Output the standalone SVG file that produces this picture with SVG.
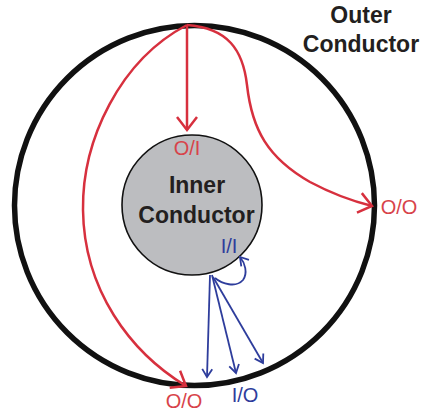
<svg xmlns="http://www.w3.org/2000/svg" width="424" height="415" viewBox="0 0 424 415">
<defs>
<style>
.lbl{font-family:"Liberation Sans",Arial,sans-serif;font-size:20px;text-anchor:middle}
.red{fill:#d8434a}
.blue{fill:#2e3d9c}
.title{font-family:"Liberation Sans",Arial,sans-serif;font-size:23px;font-weight:bold;fill:#231f20;text-anchor:middle}
.rline{fill:none;stroke:#d7303e;stroke-width:2.5;marker-end:url(#ra)}
.bline{fill:none;stroke:#2e3d9c;stroke-width:1.8;marker-end:url(#ba)}
</style>
<marker id="ra" markerUnits="userSpaceOnUse" viewBox="0 0 16 24" markerWidth="16" markerHeight="24" refX="14" refY="12" orient="auto" overflow="visible">
<path d="M1,2 L14,12 L1,22" fill="none" stroke="#d7303e" stroke-width="2.5"/>
</marker>
<marker id="ba" markerUnits="userSpaceOnUse" viewBox="0 0 10 12" markerWidth="10" markerHeight="12" refX="9" refY="6" orient="auto" overflow="visible">
<path d="M1,1 L9,6 L1,11" fill="none" stroke="#2e3d9c" stroke-width="1.8"/>
</marker>
</defs>
<rect width="424" height="415" fill="#fff"/>
<g id="outer">
<circle cx="194.5" cy="205.5" r="180" fill="none" stroke="#111" stroke-width="5.5"/>
<text class="title" x="361" y="23">Outer</text>
<text class="title" x="361" y="52">Conductor</text>
</g>
<g id="inner">
<circle cx="192" cy="205" r="70" fill="#bcbdc0" stroke="#111" stroke-width="1.6"/>
<text class="title" x="197" y="193">Inner</text>
<text class="title" x="196.5" y="223">Conductor</text>
</g>
<g id="connectors">
<path class="rline" d="M187,25 L187,130"/>
<path class="rline" d="M187,25 C228,28 243,50 247,85 C252,130 268,158 310,182 Q340,198 372,206"/>
<path class="rline" d="M187,25 C120,60 82,140 83,210 C84,290 130,352 186,386"/>
<path class="bline" d="M210,275 L207,377"/>
<path class="bline" d="M212,275 L236,373"/>
<path class="bline" d="M213,277 L263,363"/>
<path class="bline" d="M215,278 C222,284 236,288 243,280 C248,273 245,263 240,257"/>
</g>
<g id="labels">
<text class="lbl red" x="187" y="155">O/I</text>
<text class="lbl red" x="399" y="214">O/O</text>
<text class="lbl red" x="184" y="408">O/O</text>
<text class="lbl blue" x="229" y="253">I/I</text>
<text class="lbl blue" x="245" y="402">I/O</text>
</g>
</svg>
